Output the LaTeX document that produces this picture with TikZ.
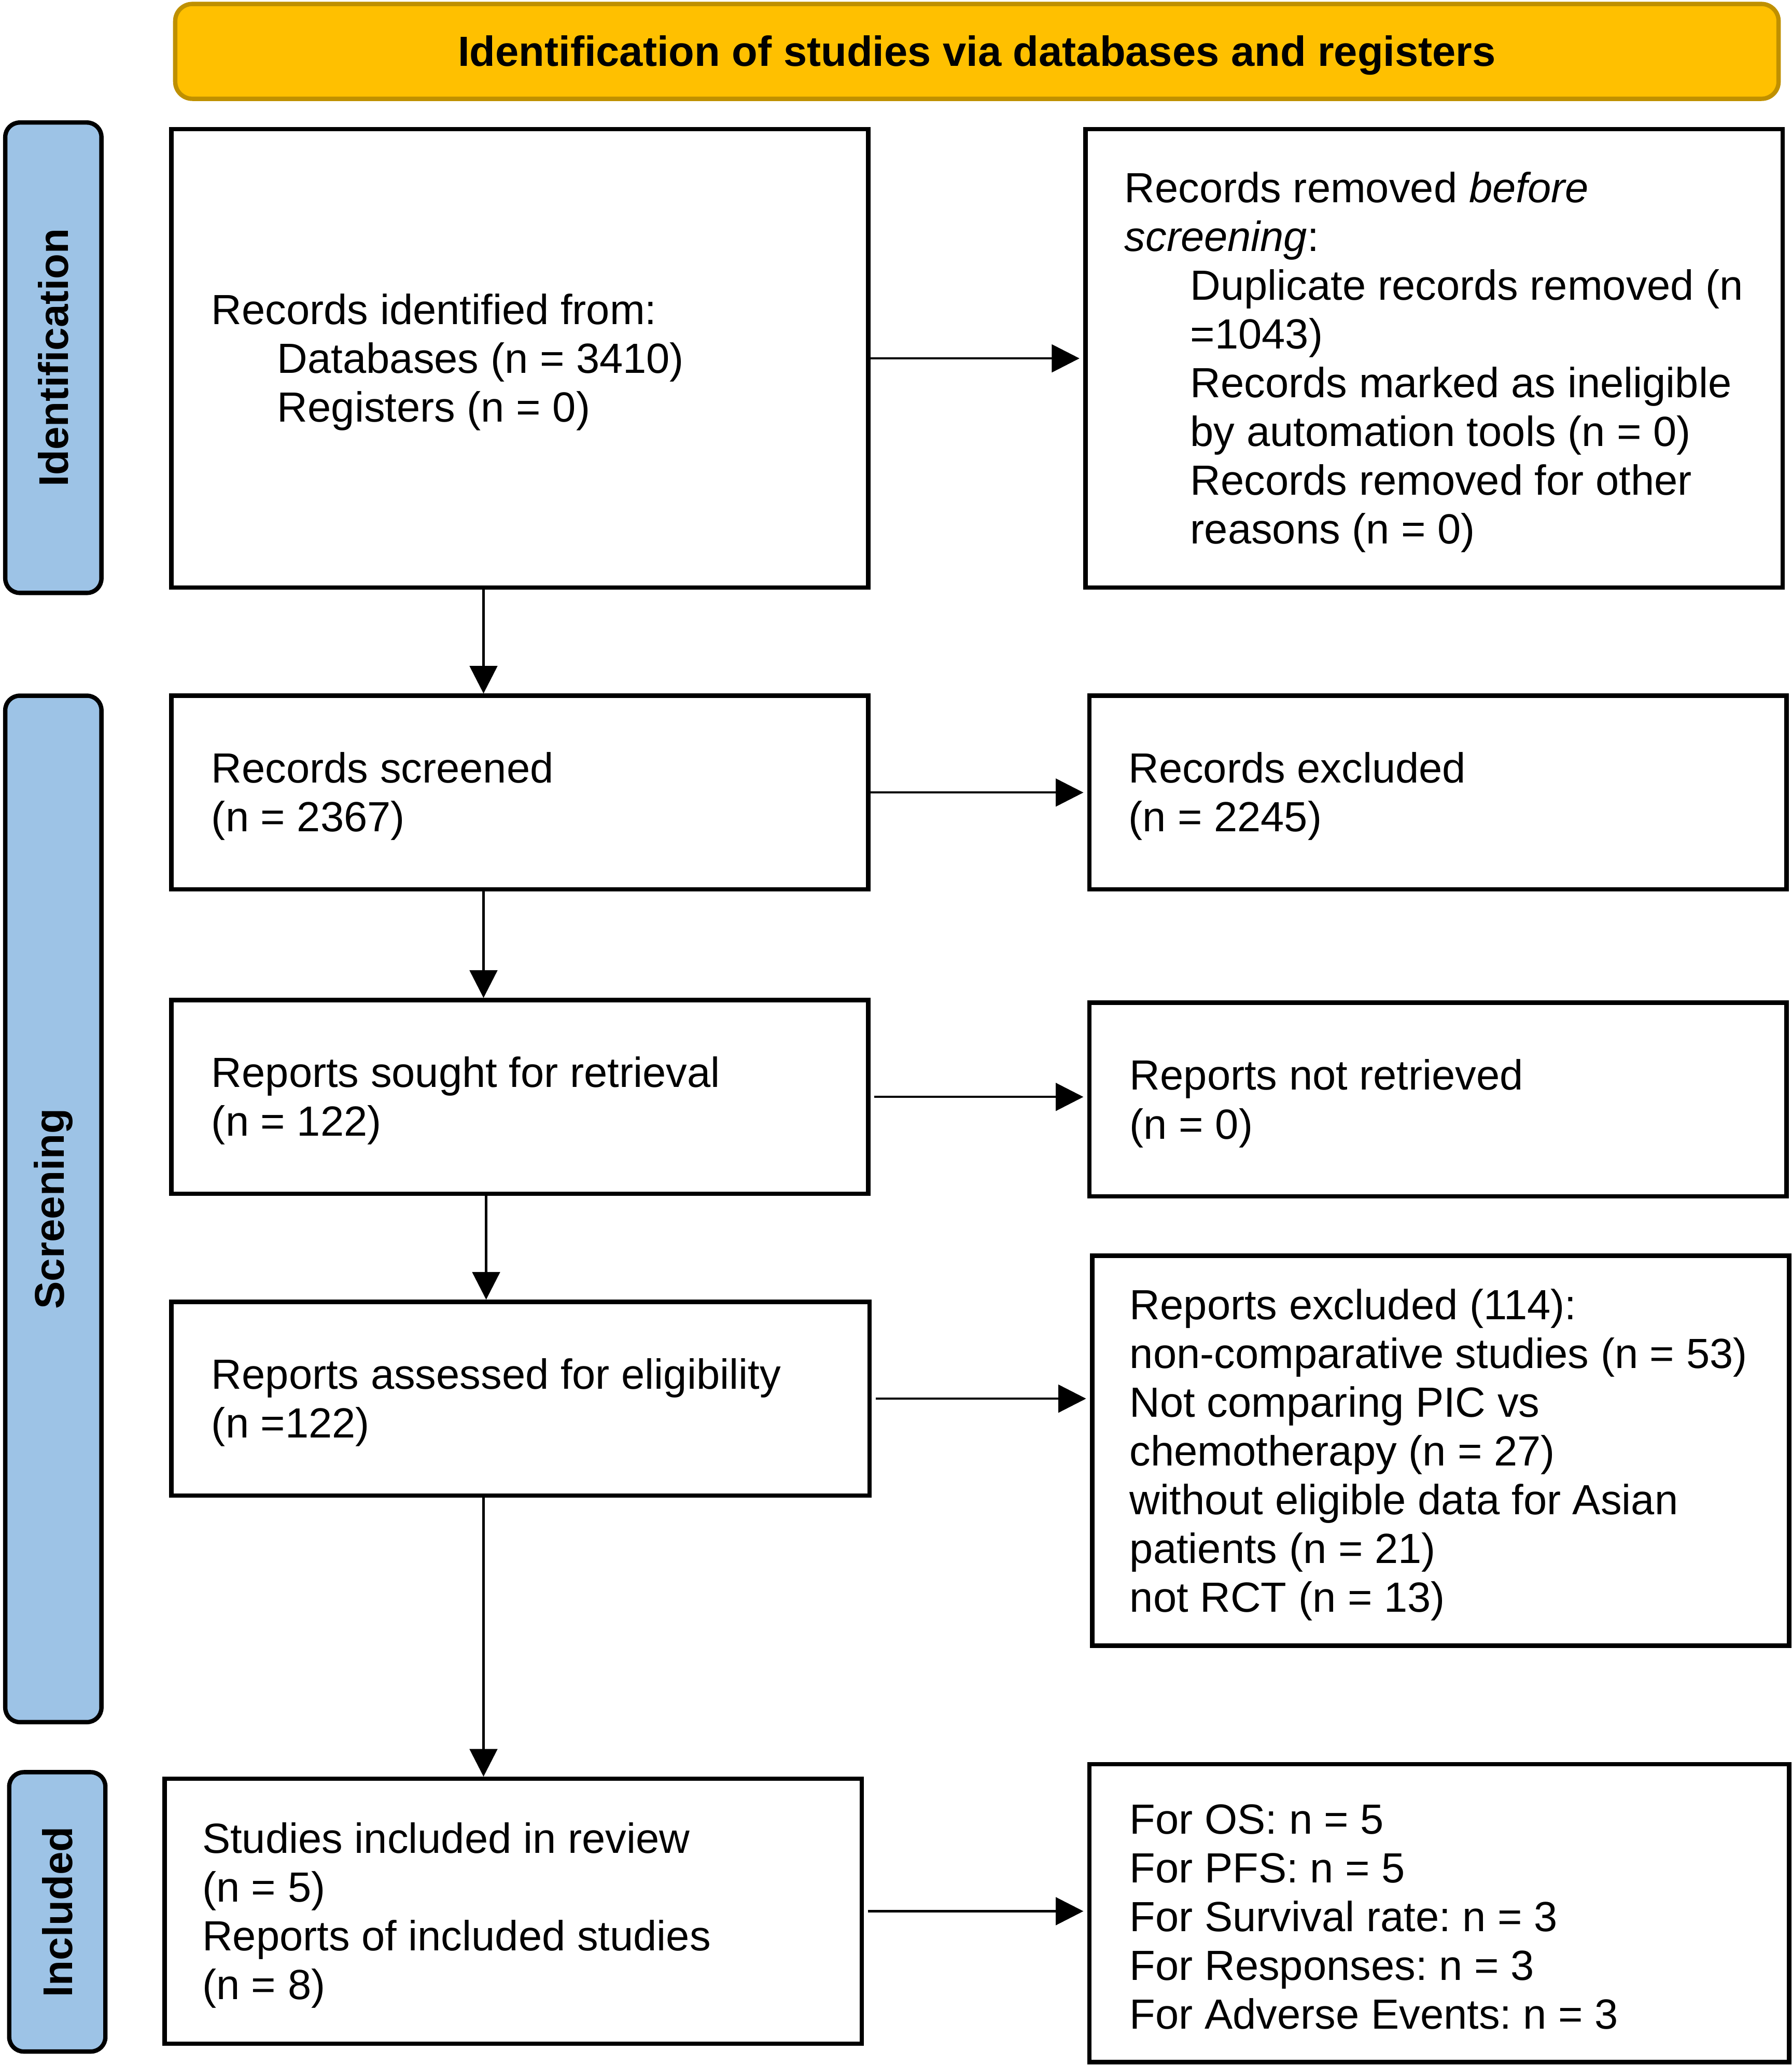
\documentclass[tikz,border=0pt]{standalone}
\usepackage{fontspec}
\setmainfont{Liberation Sans}
\usetikzlibrary{arrows.meta}
\definecolor{bannerfill}{HTML}{FFC000}
\definecolor{bannerdraw}{HTML}{BF9000}
\definecolor{phasefill}{HTML}{9DC3E6}
\frenchspacing
\begin{document}
\begin{tikzpicture}[x=1pt,y=-1pt,
  flowbox/.style={draw=black, line width=3.3pt, inner sep=0pt},
  phasebox/.style={draw=black, fill=phasefill, line width=3.3pt, rounded corners=11pt, inner sep=0pt},
  phasetxt/.style={rotate=90, inner sep=0pt, font=\fontsize{31.5}{36}\selectfont\bfseries\frenchspacing},
  txt/.style={anchor=west, align=left, inner sep=0pt, yshift=-3pt, font=\fontsize{32}{37}\selectfont\frenchspacing},
  conn/.style={line width=1.7pt, -{Triangle[length=21pt,width=21pt]}}]
\useasboundingbox (0,0) rectangle (1360,1568);

% banner
\node[draw=bannerdraw, fill=bannerfill, line width=3.3pt, rounded corners=13pt,
      minimum width=1217pt, minimum height=72pt, inner sep=0pt,
      font=\fontsize{32}{37}\selectfont\bfseries] (banner) at (741.5,39) {};
\node[inner sep=0pt, font=\fontsize{32}{37}\selectfont\bfseries, yshift=-3pt] (bannert) at (banner.center)
      {Identification of studies via databases and registers};

% phase labels
\node[phasebox, minimum width=73pt, minimum height=357pt] (pid) at (40.5,271.5) {};
\node[phasetxt] (pidt) at (pid.center) {Identification};
\node[phasebox, minimum width=73pt, minimum height=779pt] (psc) at (40.5,917.5) {};
\node[phasetxt] (psct) at (psc.center) {Screening};
\node[phasebox, minimum width=73pt, minimum height=212pt] (pin) at (43.5,1451) {};
\node[phasetxt] (pint) at (pin.center) {Included};

% left column boxes
\node[flowbox, minimum width=529pt, minimum height=348pt] (b1) at (394.5,272) {};
\node[txt] (t1) at ([xshift=32pt]b1.west) {Records identified from:\\
  \hspace*{50pt}Databases (n = 3410)\\
  \hspace*{50pt}Registers (n = 0)};

\node[flowbox, minimum width=529pt, minimum height=147pt] (b2) at (394.5,601.5) {};
\node[txt] (t2) at ([xshift=32pt]b2.west) {Records screened\\(n = 2367)};

\node[flowbox, minimum width=529pt, minimum height=147pt] (b3) at (394.5,832.5) {};
\node[txt] (t3) at ([xshift=32pt]b3.west) {Reports sought for retrieval\\(n = 122)};

\node[flowbox, minimum width=530pt, minimum height=147pt] (b4) at (395,1061.5) {};
\node[txt] (t4) at ([xshift=32pt]b4.west) {Reports assessed for eligibility\\(n =122)};

\node[flowbox, minimum width=529pt, minimum height=201pt] (b5) at (389.5,1450.5) {};
\node[txt] (t5) at ([xshift=30pt]b5.west) {Studies included in review\\(n = 5)\\Reports of included studies\\(n = 8)};

% right column boxes
\node[flowbox, minimum width=529pt, minimum height=348pt] (bA) at (1088.5,272) {};
\node[txt] (tA) at ([xshift=31pt]bA.west) {Records removed \textit{before}\\
  \textit{screening}:\\
  \hspace*{50pt}Duplicate records removed (n\\
  \hspace*{50pt}=1043)\\
  \hspace*{50pt}Records marked as ineligible\\
  \hspace*{50pt}by automation tools (n = 0)\\
  \hspace*{50pt}Records removed for other\\
  \hspace*{50pt}reasons (n = 0)};

\node[flowbox, minimum width=529pt, minimum height=147pt] (bB) at (1091.5,601.5) {};
\node[txt] (tB) at ([xshift=31pt]bB.west) {Records excluded\\(n = 2245)};

\node[flowbox, minimum width=529pt, minimum height=147pt] (bC) at (1091.5,834.5) {};
\node[txt] (tC) at ([xshift=32pt]bC.west) {Reports not retrieved\\(n = 0)};

\node[flowbox, minimum width=529pt, minimum height=296pt] (bD) at (1093.5,1101) {};
\node[txt] (tD) at ([xshift=30pt]bD.west) {Reports excluded (114):\\
  non-comparative studies (n = 53)\\
  Not comparing PIC vs\\
  chemotherapy (n = 27)\\
  without eligible data for Asian\\
  patients (n = 21)\\
  not RCT (n = 13)};

\node[flowbox, minimum width=531pt, minimum height=226pt] (bE) at (1092.5,1452) {};
\node[txt] (tE) at ([xshift=32pt]bE.west) {For OS: n = 5\\For PFS: n = 5\\For Survival rate: n = 3\\For Responses: n = 3\\For Adverse Events: n = 3};

% connectors
\coordinate (dx1) at (367,0);
\coordinate (dx3) at (369,0);
\draw[conn] (b1.south -| dx1) -- (b2.north -| dx1);
\draw[conn] (b2.south -| dx1) -- (b3.north -| dx1);
\draw[conn] (b3.south -| dx3) -- (b4.north -| dx3);
\draw[conn] (b4.south -| dx1) -- (b5.north -| dx1);

\draw[conn, shorten >=3pt] (b1.east) -- (b1.east -| bA.west);
\draw[conn, shorten >=3pt] (b2.east) -- (b2.east -| bB.west);
\draw[conn, shorten >=3pt, shorten <=3pt] (b3.east) -- (b3.east -| bC.west);
\draw[conn, shorten >=3pt, shorten <=3pt] (b4.east) -- (b4.east -| bD.west);
\draw[conn, shorten >=3pt, shorten <=3pt] (b5.east) -- (b5.east -| bE.west);
\end{tikzpicture}
\end{document}
